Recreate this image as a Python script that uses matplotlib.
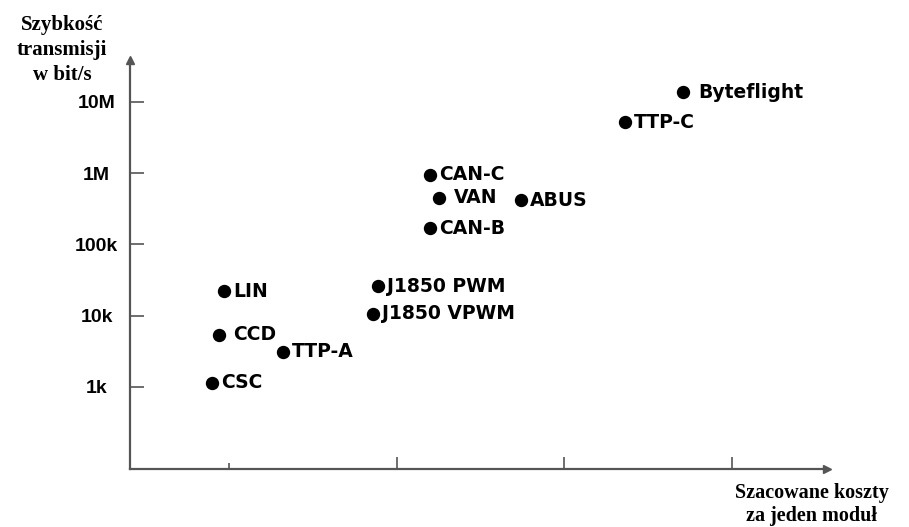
import numpy as np
from matplotlib import pyplot as plt

# magistrale: szacowany koszt (umowne jednostki) i szybkosc transmisji [bit/s]
names = ['Byteflight', 'TTP-C', 'CAN-C', 'VAN', 'ABUS', 'CAN-B',
         'J1850 PWM', 'J1850 VPWM', 'LIN', 'CCD', 'TTP-A', 'CSC']
cost = [3.71, 3.36, 2.20, 2.25, 2.74, 2.20, 1.89, 1.86, 0.97, 0.94, 1.32, 0.90]
rate = [13.8e6, 5.2e6, 0.95e6, 450e3, 420e3, 170e3,
        26e3, 10.6e3, 22e3, 5.4e3, 3.1e3, 1.14e3]

ytick_vals = [1e3, 1e4, 1e5, 1e6, 1e7]
ytick_labels = ['1k', '10k', '100k', '1M', '10M']
xtick_vals = [2, 3, 4]

# odstep etykiety od kropki (px)
gap = {'VAN': 15, 'Byteflight': 15, 'CCD': 14}

W, H = 909, 527
fig = plt.figure(figsize=(W / 100, H / 100), dpi=100)
ax = fig.add_axes([130 / W, (H - 469) / H, (827 - 130) / W, (469 - 60) / H])

axc = '#555555'
ax.set_yscale('log')
ax.set_xlim(0.41, 4.566)
ax.set_ylim(10 ** 1.849, 10 ** 7.589)

for s in ['top', 'right']:
    ax.spines[s].set_visible(False)
for s in ['left', 'bottom']:
    ax.spines[s].set_color(axc)
    ax.spines[s].set_linewidth(1.6)

# strzalki na koncach osi
ax.plot(1, 0, '>', color=axc, ms=6, transform=ax.transAxes, clip_on=False)
ax.plot(0, 1, '^', color=axc, ms=6, transform=ax.transAxes, clip_on=False)

ax.set_yticks(ytick_vals)
ax.set_yticklabels(ytick_labels)
ax.minorticks_off()
ax.tick_params(axis='y', direction='in', length=10, width=1.2, color=axc, pad=24)
for lab in ax.get_yticklabels():
    lab.set_horizontalalignment('center')
    lab.set_fontfamily('Liberation Sans')
    lab.set_fontweight('bold')
    lab.set_fontsize(14)

ax.set_xticks(xtick_vals)
ax.set_xticks([1], minor=True)
ax.set_xticklabels([])
ax.tick_params(axis='x', which='major', direction='in', length=9, width=1.2, color=axc)
ax.tick_params(axis='x', which='minor', direction='in', length=4.5, width=1.2, color=axc)

ax.plot(cost, rate, 'o', color='black', ms=8.6, clip_on=False)
for n, x, y in zip(names, cost, rate):
    ax.annotate(n, (x, y), xytext=(gap.get(n, 9) * 0.72, 0), textcoords='offset points',
                va='center', ha='left', fontsize=13.5, fontweight='bold',
                family='DejaVu Sans')

serif = dict(family='Liberation Serif', fontweight='bold', ha='center', va='baseline')
for txt, yb in [('Szybkość', 30), ('transmisji', 55), ('w bit/s', 80)]:
    fig.text(62 / W, 1 - yb / H, txt, fontsize=15, **serif)
for txt, yb in [('Szacowane koszty', 498), ('za jeden moduł', 521)]:
    fig.text(812 / W, 1 - yb / H, txt, fontsize=14.5, **serif)

fig.savefig('out.png', dpi=100)
